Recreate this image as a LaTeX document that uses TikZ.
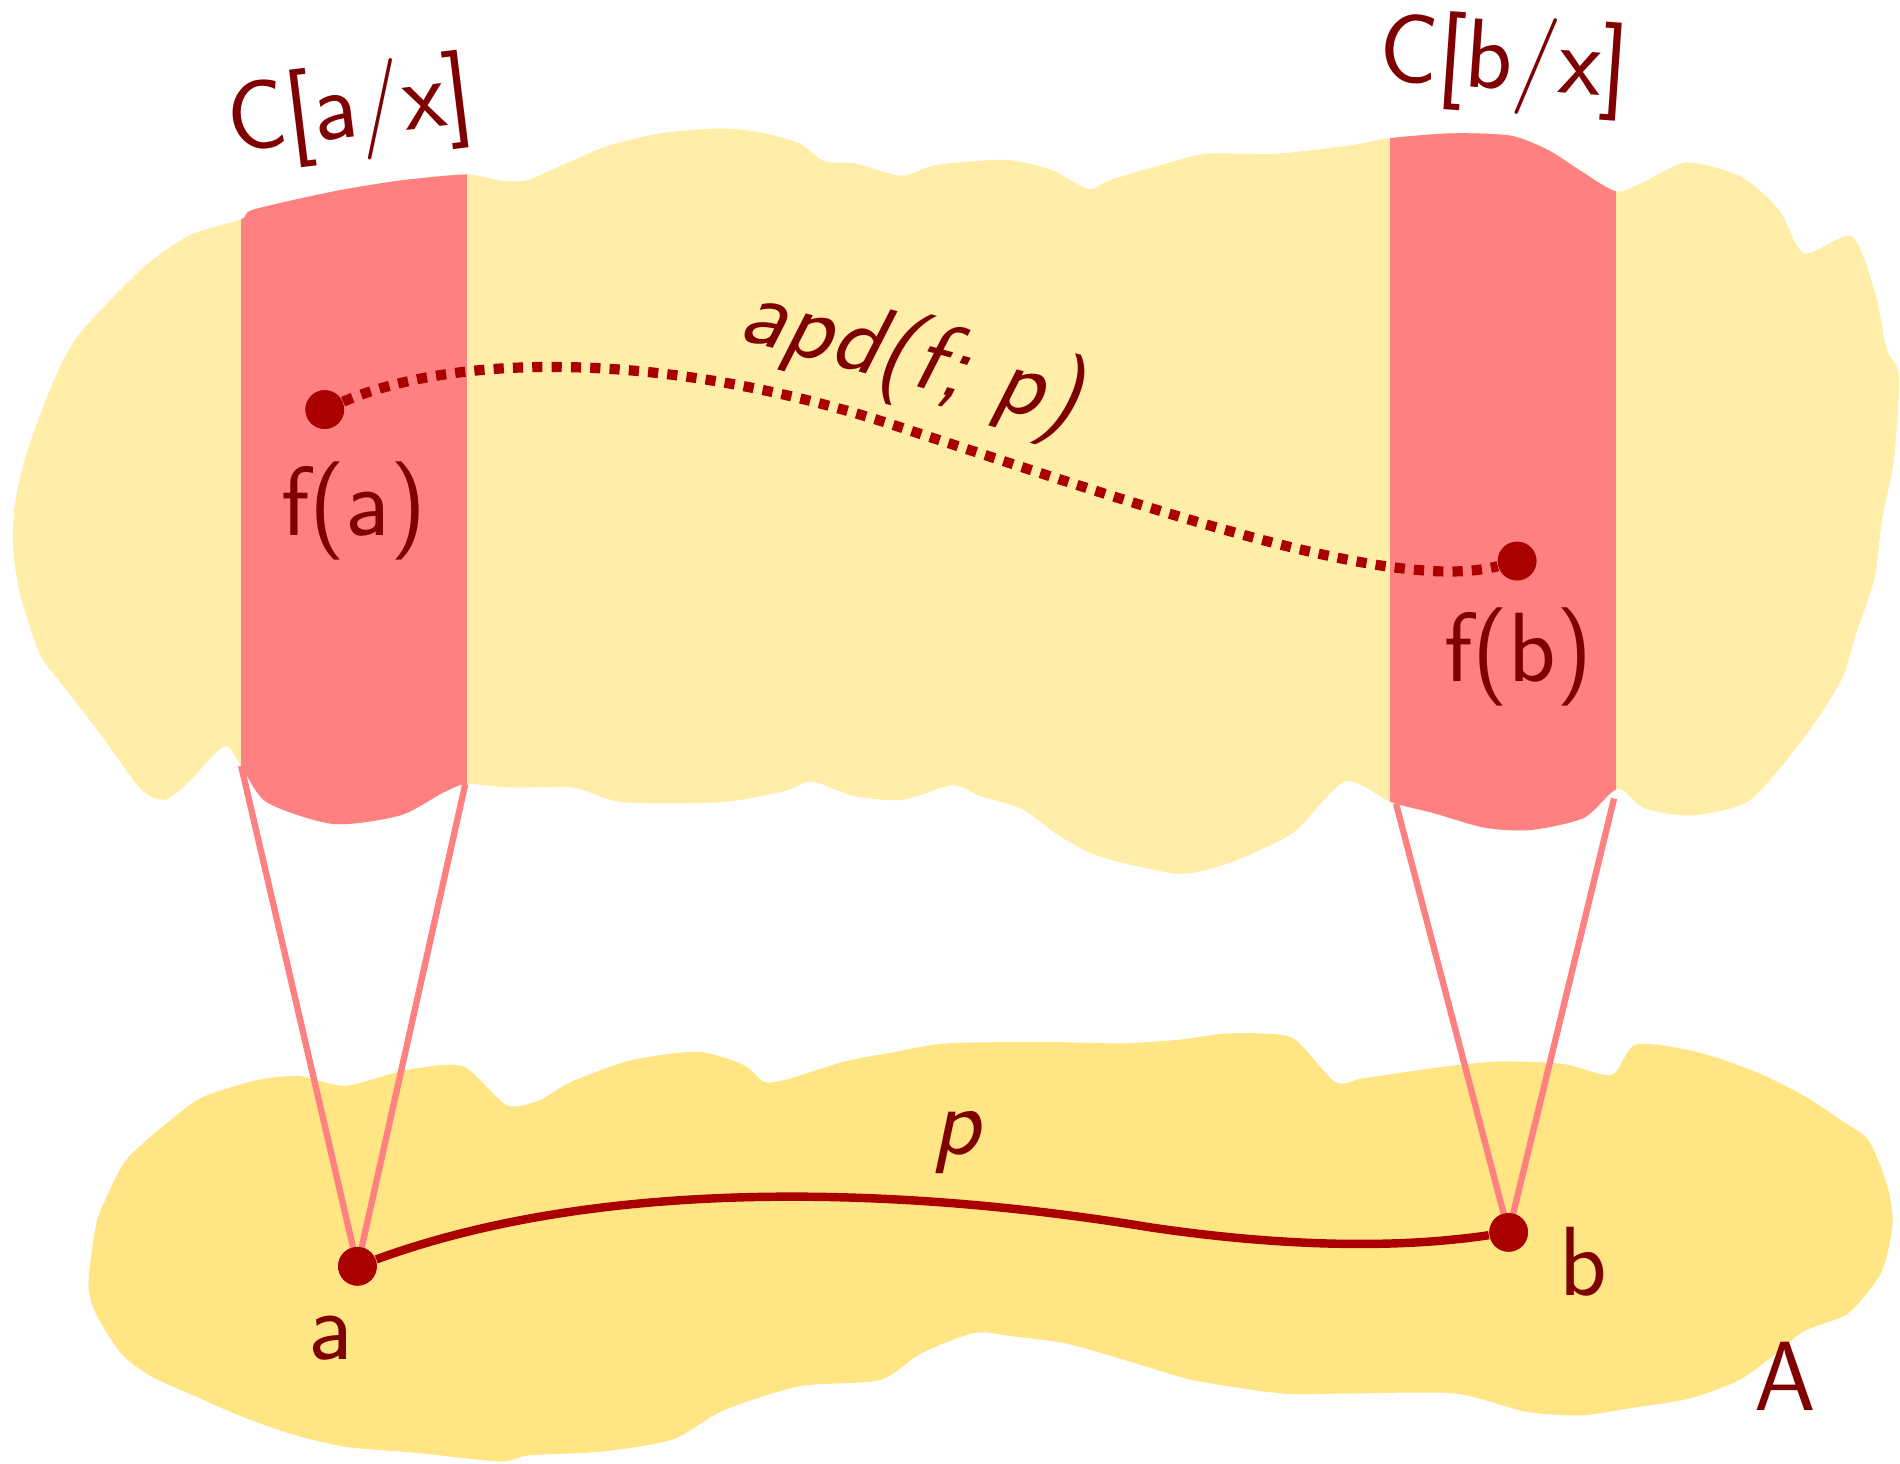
\documentclass[tikz,border=0pt]{standalone}
\usepackage{tikz}
\usetikzlibrary{calc,positioning}
\definecolor{inkc}{HTML}{7F0000}
\definecolor{dotc}{HTML}{AA0000}
\definecolor{stripc}{HTML}{FF8080}
\definecolor{famc}{HTML}{FFEDA8}
\definecolor{basec}{HTML}{FFE583}
\tikzset{
  lbl/.style={text=inkc,font=\sffamily\fontsize{28}{33}\selectfont,inner sep=0pt},
  pt/.style={circle,fill=dotc,minimum size=11pt,inner sep=0pt},
  fib/.style={stripc,line width=1.8pt},
  pathln/.style={dotc,line width=2.4pt},
  dotln/.style={dotc,line width=2.9pt,dash pattern=on 2.9pt off 2.6pt},
  blob/.style={smooth cycle,tension=0.45}
}
\def\famblob{(11,455) (12,418) (22,374) (44,315) (66,275) (118,221) (157,194) (199,181) (209,173) (275,158) (330,149) (385,144) (413,149) (434,149) (458,139) (500,121) (545,110) (593,106) (626,109) (659,118) (680,133) (706,135) (744,145) (773,136) (830,132) (867,140) (898,156) (915,149) (952,138) (995,127) (1052,127) (1114,120) (1147,114) (1199,110) (1247,112) (1278,124) (1306,142) (1334,158) (1357,150) (1392,134) (1437,146) (1468,173) (1489,209) (1528,195) (1547,240) (1557,288) (1567,310) (1563,379) (1553,430) (1547,477) (1531,525) (1522,556) (1506,584) (1490,607) (1468,635) (1440,663) (1395,673) (1357,667) (1335,651) (1307,675) (1263,685) (1225,683) (1183,671) (1148,662) (1110,645) (1070,685) (1041,701) (1006,715) (971,721) (908,707) (873,689) (844,668) (809,657) (786,648) (745,660) (705,657) (670,645) (647,653) (595,662) (514,662) (473,650) (421,650) (385,647) (366,654) (330,673) (275,680) (220,662) (199,632) (185,616) (154,647) (136,660) (116,651) (83,606) (52,566) (33,540) (17,492)}
\def\baseblob{(73,1059) (79,1012) (87,990) (106,955) (155,913) (176,902) (214,891) (247,888) (285,896) (336,883) (382,880) (418,912) (445,908) (471,893) (521,875) (576,868) (614,879) (631,893) (652,890) (697,876) (734,869) (782,861) (867,860) (925,861) (973,858) (1010,853) (1043,853) (1069,858) (1102,893) (1124,890) (1158,885) (1194,880) (1238,876) (1290,878) (1330,887) (1350,862) (1400,868) (1450,885) (1490,905) (1520,925) (1542,941) (1557,977) (1562,1007) (1557,1037) (1549,1056) (1525,1084) (1488,1099) (1462,1120) (1435,1139) (1395,1154) (1346,1162) (1305,1168) (1259,1165) (1201,1150) (1114,1150) (1058,1150) (985,1139) (937,1125) (881,1109) (837,1103) (804,1100) (760,1117) (726,1139) (660,1144) (597,1164) (555,1188) (496,1198) (437,1201) (412,1206) (344,1199) (285,1194) (239,1183) (197,1168) (163,1153) (125,1136) (100,1117) (79,1084)}
\begin{document}
\begin{tikzpicture}[x=0.12117mm,y=-0.12117mm]
\useasboundingbox (0,0) rectangle (1568,1208);
% total space and base
\fill[famc] plot[blob] coordinates {\famblob};
\fill[basec] plot[blob] coordinates {\baseblob};
\begin{scope}
  \clip plot[blob] coordinates {\famblob};
  \fill[stripc] (199,0) rectangle (385,800);
  \fill[stripc] (1147,0) rectangle (1334,800);
\end{scope}
% fibre edges
\coordinate (la1) at (199,632); \coordinate (la2) at (384,647);
\coordinate (lb1) at (1152,663); \coordinate (lb2) at (1332,659);
\node[pt] (a) at (295,1045) {};
\node[pt] (b) at (1245,1017) {};
\node[pt] (fa) at (268,338) {};
\node[pt] (fb) at (1252,463) {};
\draw[fib] (la1) -- (a.center) -- (la2);
\draw[fib] (lb1) -- (b.center) -- (lb2);
\draw[pathln] (a) .. controls (500,970) and (750,980) .. (950,1013) .. controls (1100,1035) and (1190,1025) .. (b);
\draw[dotln] (fa) .. controls (380,290) and (560,290) .. (750,355) .. controls (950,420) and (1150,490) .. (fb);
\node[pt] at (a) {}; \node[pt] at (b) {};
\node[pt] at (fa) {}; \node[pt] at (fb) {};
% labels
\node[lbl,rotate=7] (ca) at (289,93) {C[a/x]};
\node[lbl,rotate=-4] (cb) at (1241,53) {C[b/x]};
\node[lbl] (fal) at (292,422) {f(a)};
\node[lbl] (fbl) at (1253,542) {f(b)};
\node[lbl,rotate=-15] (apd) at (751,297) {\itshape apd(f; p)};
\node[lbl] (al) at (273,1104) {a};
\node[lbl] (bl) at (1307,1041) {b};
\node[lbl] (pl) at (789,943) {\itshape p};
\node[lbl] (Al) at (1473,1136) {A};
\end{tikzpicture}
\end{document}
